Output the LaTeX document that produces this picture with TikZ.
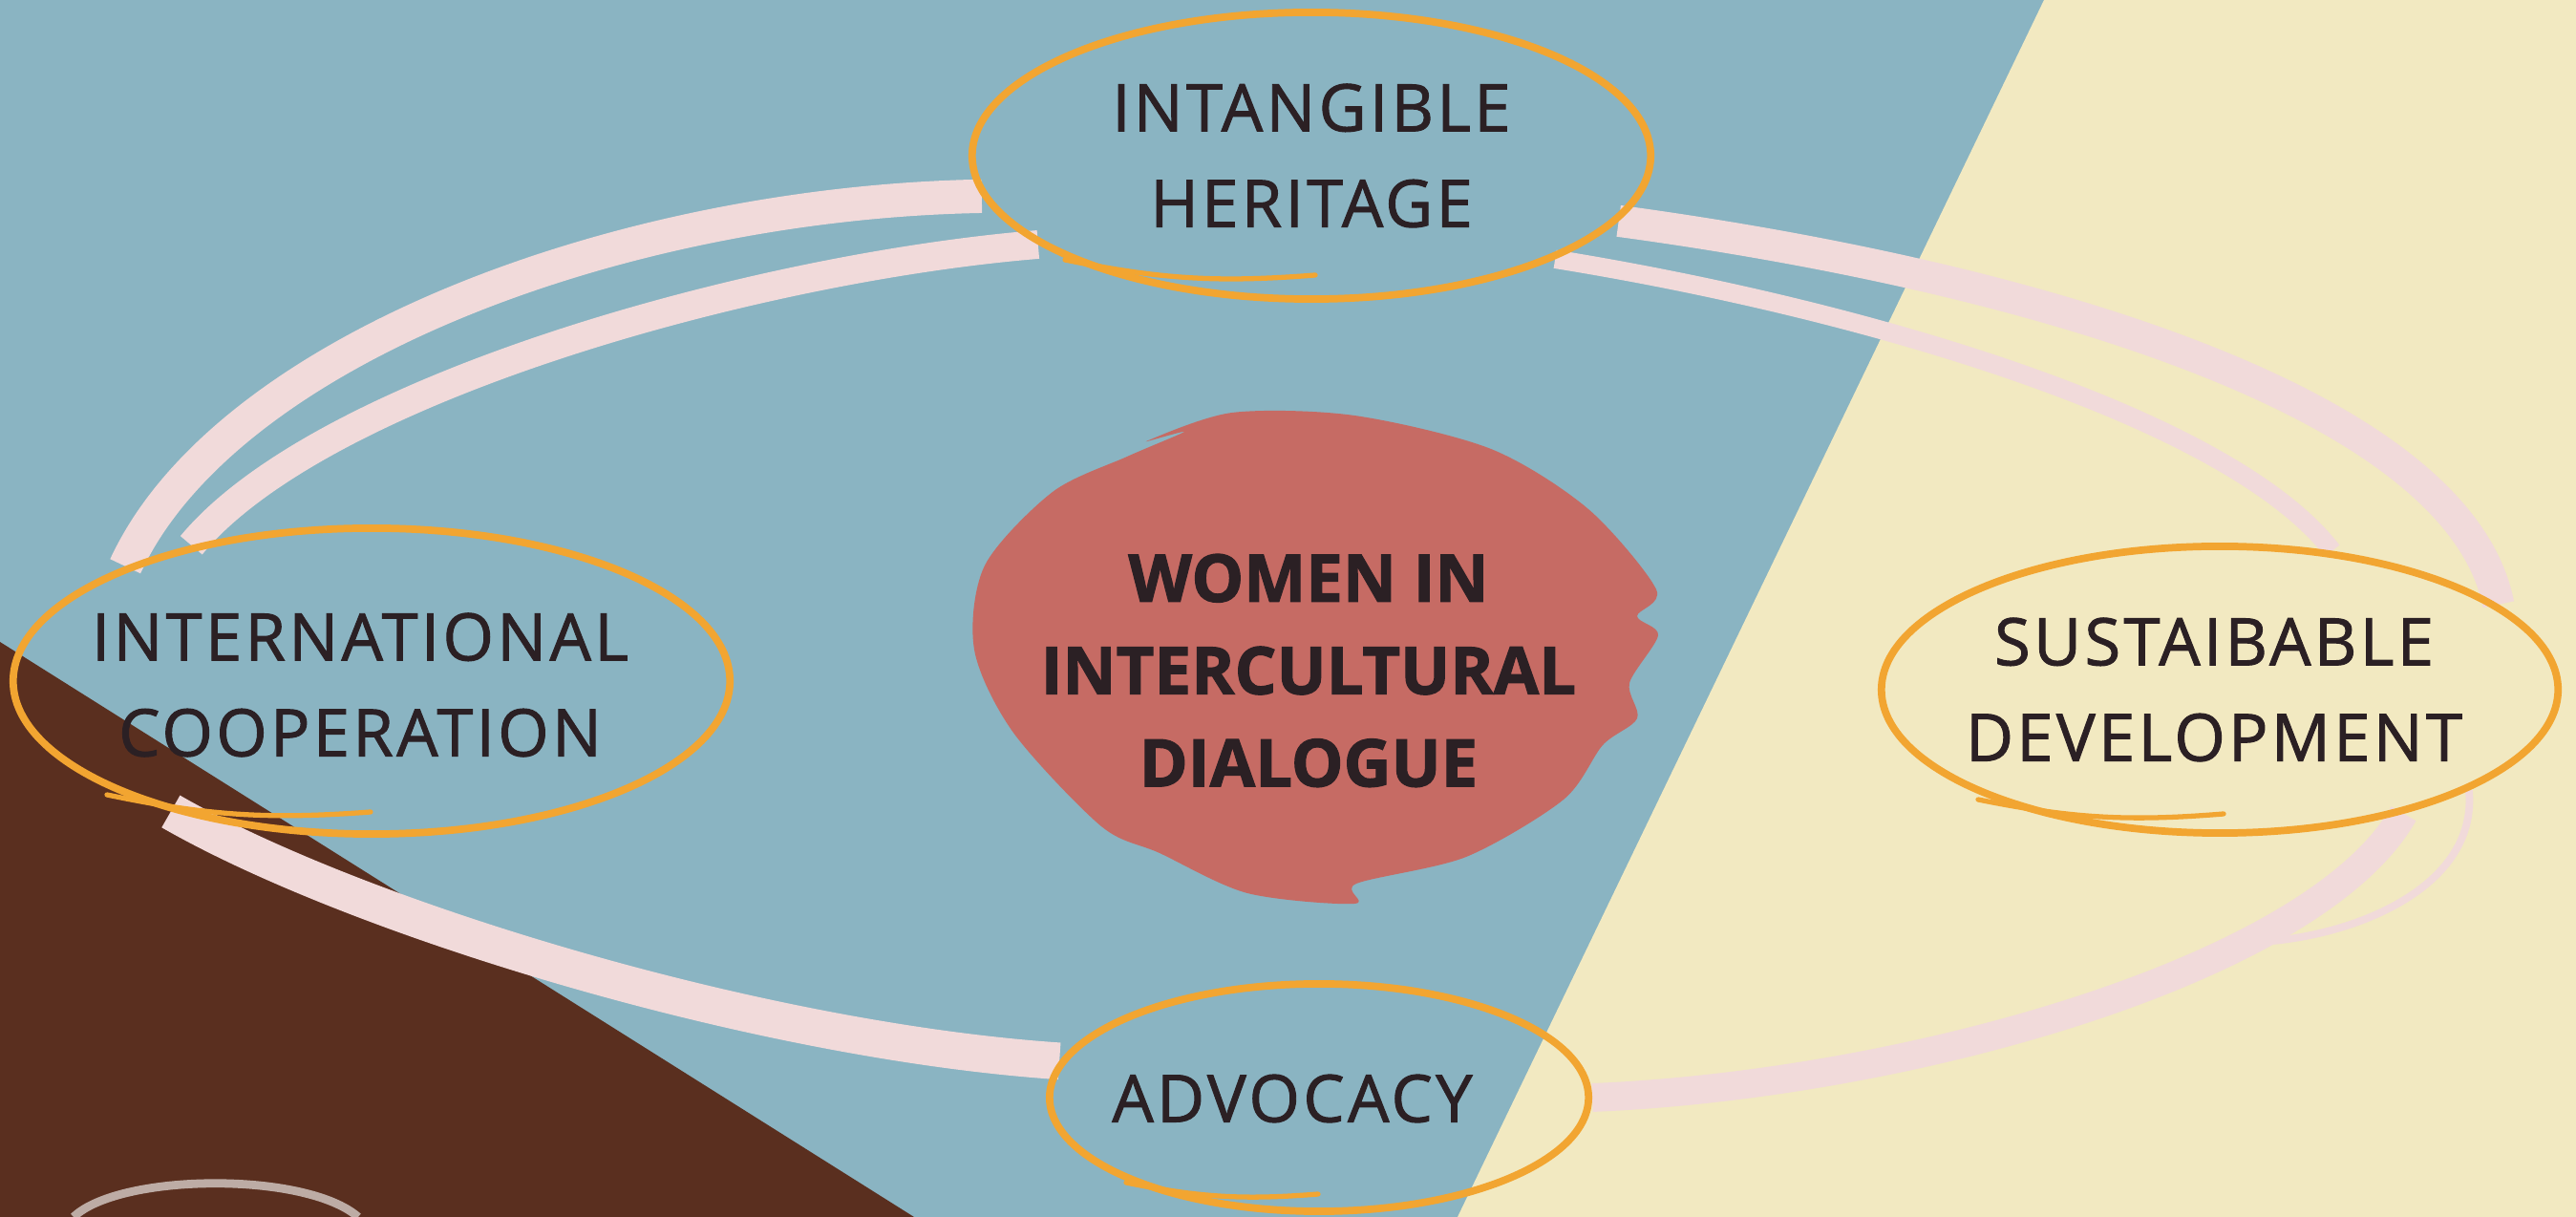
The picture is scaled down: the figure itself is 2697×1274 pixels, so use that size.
\documentclass[tikz,border=0pt]{standalone}
\usepackage{fontspec}
\setmainfont{Open Sans}
\newfontfamily\topicfont[LetterSpace=5,FakeBold=1.4]{Open Sans}
\newfontfamily\womenfont[FakeBold=1.6]{Open Sans}
\usetikzlibrary{shapes.geometric}

\definecolor{bgblue}{HTML}{8AB4C2}
\definecolor{bgcream}{HTML}{F2E9C1}
\definecolor{bgbrown}{HTML}{5A2F1F}
\definecolor{brushpink}{HTML}{F1DADA}
\definecolor{ringorange}{HTML}{F2A531}
\definecolor{blobred}{HTML}{C66B64}
\definecolor{inkdark}{HTML}{2B2024}

\pgfdeclarelayer{bg}
\pgfdeclarelayer{paint}
\pgfsetlayers{bg,paint,main}

\begin{document}
\begin{tikzpicture}[x=0.01cm,y=-0.01cm]
        \tikzstyle{topic}=[ellipse,draw=ringorange,line width=2.2pt,inner sep=0pt]
        \tikzstyle{topictext}=[align=center,text=inkdark,font=\topicfont\fontsize{19.5}{28.5}\selectfont]
        \tikzstyle{brush}=[draw=brushpink,line width=9pt]
        \tikzstyle{curl}=[draw=ringorange,line width=1.5pt,line cap=round]
       \useasboundingbox (0,0) rectangle (2697,1274);
       \begin{pgfonlayer}{bg}
         \fill[bgblue] (0,0) rectangle (2697,1274);
         \fill[bgcream] (2140,0) -- (2697,0) -- (2697,1274) -- (1526,1274) -- cycle;
         \fill[bgbrown] (0,672) -- (957,1274) -- (0,1274) -- cycle;
         \draw[white!60!bgbrown,line width=2.5pt] (77,1274) .. controls (125,1228) and (320,1226) .. (375,1274);
       \end{pgfonlayer}

       % the four topics
       \node [topic,minimum width=7.1cm,minimum height=3.0cm] (heritage) at (1373,163) {};
       \node [topic,minimum width=7.5cm,minimum height=3.2cm] (coop) at (389,713) {};
       \node [topic,minimum width=7.08cm,minimum height=3.0cm] (sustain) at (2324,722) {};
       \node [topic,minimum width=5.64cm,minimum height=2.38cm] (advocacy) at (1381,1149) {};
       \node [topictext] (heritage-text) at (heritage) {INTANGIBLE\\HERITAGE};
       \node [topictext] (coop-text) at ([shift={(-12,4)}]coop.center) {INTERNATIONAL\\COOPERATION};
       \node [topictext] (sustain-text) at ([shift={(-6,0)}]sustain.center) {SUSTAIBABLE\\DEVELOPMENT};
       \node [topictext] (advocacy-text) at ([shift={(-28,1)}]advocacy.center) {ADVOCACY};

       \draw[curl] ([shift={(-258,109)}]heritage.center) to[bend right=8] ([shift={(4,125)}]heritage.center);
       \draw[curl] ([shift={(-277,119)}]coop.center) to[bend right=8] ([shift={(-1,137)}]coop.center);
       \draw[curl] ([shift={(-253,115)}]sustain.center) to[bend right=8] ([shift={(4,130)}]sustain.center);
       \draw[curl] ([shift={(-202,89)}]advocacy.center) to[bend right=8] ([shift={(-1,101)}]advocacy.center);

       % centre
       \fill[blobred] plot[smooth cycle,tension=.5] coordinates {(1240,452) (1200,462) (1290,432) (1418,435) (1561,470) (1663,533) (1734,617) (1714,645) (1736,665) (1706,715) (1714,752) (1678,780) (1637,837) (1535,897) (1420,925) (1418,946) (1306,935) (1214,893) (1153,865) (1061,767) (1020,680) (1031,592) (1102,515) (1180,478)};
       \node [align=center,text=inkdark,font=\womenfont\bfseries\fontsize{19.6}{27.5}\selectfont] (women) at (1370,702) {WOMEN IN\\INTERCULTURAL\\DIALOGUE};

       \coordinate (tail) at (2380,985);
       \begin{pgfonlayer}{paint}
         \path[brush,line width=10pt] (heritage.187) .. controls +(-382,7) and +(104,-225) .. (coop.155);
         \path[brush,line width=8.5pt] (heritage.198) .. controls +(-295,24) and +(136,-164) .. (coop.143);
         \path[brush,line width=9.4pt] (heritage.348) .. controls +(458,62) and +(-40,-204) .. (sustain.17);
         \path[brush,line width=5.5pt] (heritage.337) .. controls +(323,52) and +(-108,-140) .. (sustain.51);
         \path[brush,line width=8.5pt] (sustain.326) .. controls +(-91,161) and +(337,-14) .. (advocacy.east);
         \path[brush,line width=2.2pt] (sustain.338) .. controls +(9,95) and +(100,-10) .. (tail);
         \path[brush,line width=11pt] (coop.213) .. controls +(197,113) and +(-313,-21) .. (advocacy.172);
       \end{pgfonlayer}
      \end{tikzpicture}
\end{document}
